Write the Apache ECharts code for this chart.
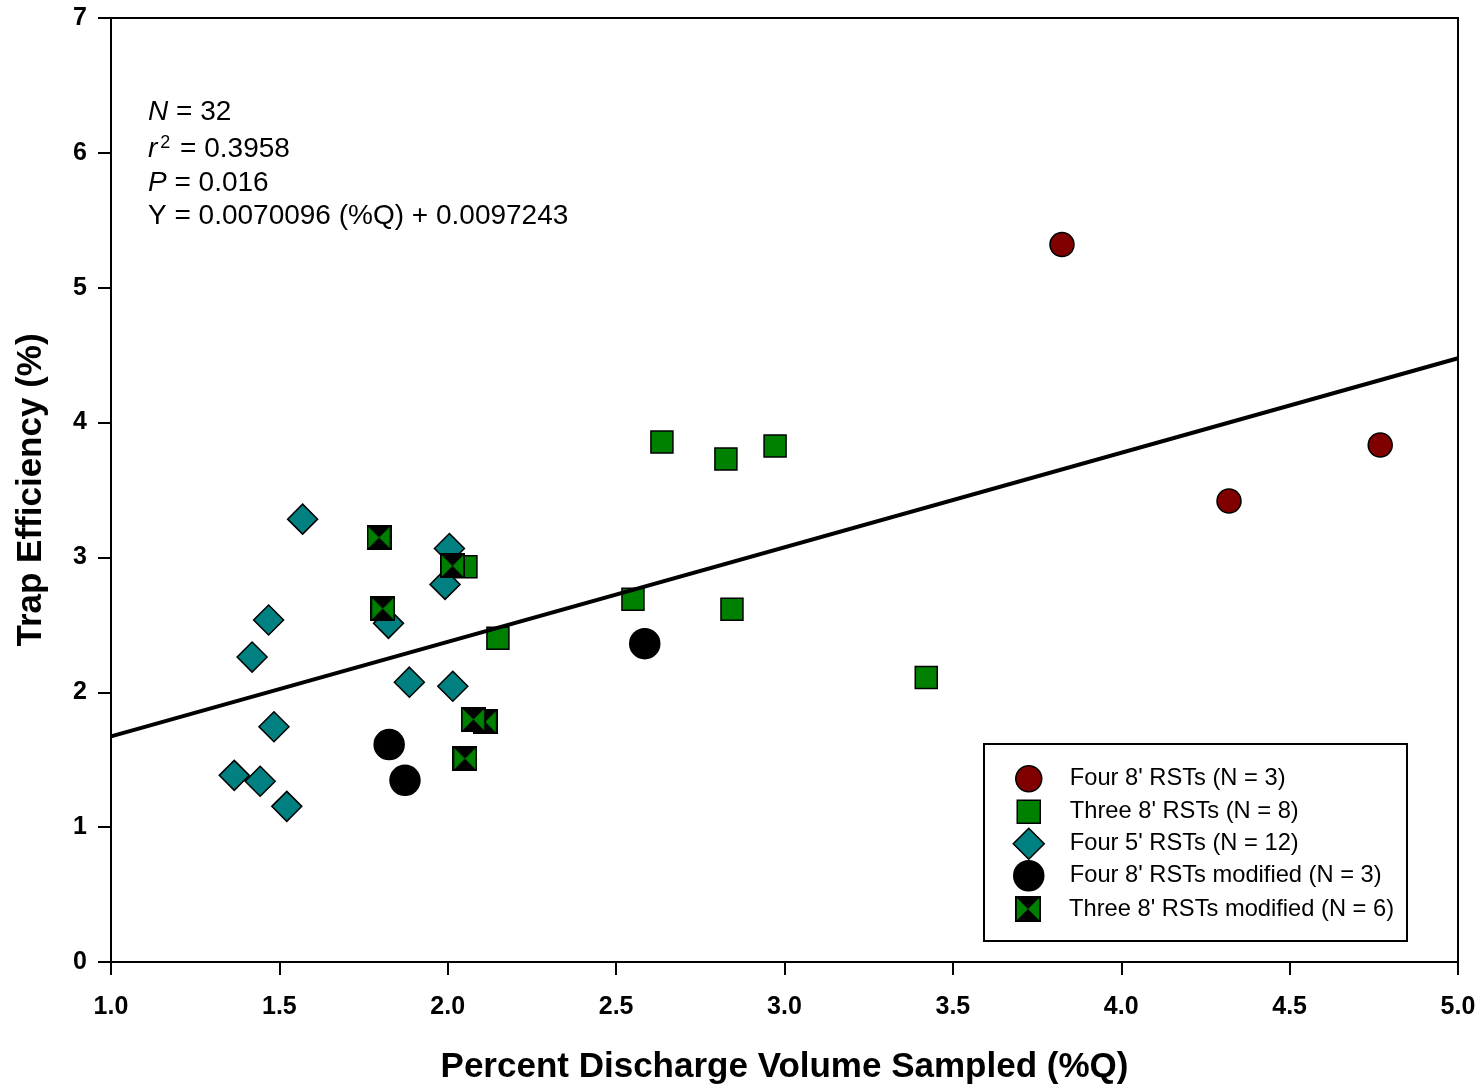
<!DOCTYPE html>
<html><head><meta charset="utf-8">
<script src="https://cdn.jsdelivr.net/npm/echarts@6/dist/echarts.min.js"></script>
<style>html,body{margin:0;padding:0;background:#fff}#c{width:1484px;height:1084px}</style>
</head><body><div id="c"></div>
<script>
// ---- data ----
const seriesNames = [
  "Four 8' RSTs (N = 3)",
  "Three 8' RSTs (N = 8)",
  "Four 5' RSTs (N = 12)",
  "Four 8' RSTs modified (N = 3)",
  "Three 8' RSTs modified (N = 6)"
];
const four8 = [[3.824, 5.32], [4.320, 3.418], [4.769, 3.834]];
const three8 = [[2.636, 3.856], [2.826, 3.73], [2.972, 3.826], [2.550, 2.69], [2.844, 2.615], [3.421, 2.11], [2.149, 2.40], [2.054, 2.93]];
const four5 = [[1.569, 3.284], [1.468, 2.536], [1.419, 2.261], [1.484, 1.744], [1.366, 1.384], [1.443, 1.34], [1.522, 1.154], [2.005, 3.066], [1.992, 2.80], [1.824, 2.511], [1.886, 2.075], [2.015, 2.045]];
const four8mod = [[1.826, 1.612], [1.873, 1.347], [2.585, 2.36]];
const three8mod = [[1.796, 3.148], [1.807, 2.62], [2.111, 1.781], [2.076, 1.798], [2.014, 2.937], [2.051, 1.508]];
const regSlope = 0.70096;      // Y = 0.0070096 (%Q) + 0.0097243, shown in %
const regIntercept = 0.97243;
const xTickLabels = ['1.0', '1.5', '2.0', '2.5', '3.0', '3.5', '4.0', '4.5', '5.0'];
const yTickLabels = ['0', '1', '2', '3', '4', '5', '6', '7'];
const statLines = ['{i|N} = 32', '{i|r}{sup|2}{n| = 0.3958}', '{i|P} = 0.016', 'Y = 0.0070096 (%Q) + 0.0097243'];

const FONT = "'Liberation Sans', Arial, sans-serif";

function bowtieSymbol() {
  const c = document.createElement('canvas');
  c.width = c.height = 100;
  const g = c.getContext('2d');
  g.fillStyle = '#000'; g.fillRect(0, 0, 100, 100);
  g.fillStyle = '#008000';
  const b = 7;
  g.beginPath(); g.moveTo(b, b); g.lineTo(50, 50); g.lineTo(b, 100 - b); g.closePath(); g.fill();
  g.beginPath(); g.moveTo(100 - b, b); g.lineTo(50, 50); g.lineTo(100 - b, 100 - b); g.closePath(); g.fill();
  return 'image://' + c.toDataURL();
}
const BOW = bowtieSymbol();
const SQUARE = 'path://M0,0H10V10H0Z';
const DIAMOND = 'path://M5,0L10,5L5,10L0,5Z';

const chart = echarts.init(document.getElementById('c'), null, {renderer: 'canvas'});

const border = {borderColor: '#000', borderWidth: 1.5, opacity: 1};
const legendRows = [
  {name: seriesNames[0], cy: 778, h: 26, img: false},
  {name: seriesNames[1], cy: 811, h: 23, img: false},
  {name: seriesNames[2], cy: 843, h: 31, img: false},
  {name: seriesNames[3], cy: 875, h: 30, img: false},
  {name: seriesNames[4], cy: 909, h: 26, img: true}
];
const legends = legendRows.map(r => ({
  data: [r.name],
  left: r.img ? 992 : 1028 - r.h / 2, top: r.cy - r.h / 2,
  itemWidth: 72, itemHeight: r.h,
  padding: 0, selectedMode: false,
  symbolKeepAspect: true,
  itemStyle: {borderColor: '#000', borderWidth: 1.5, opacity: 1},
  textStyle: {fontSize: 23.7, fontFamily: FONT, color: '#000', lineHeight: 20}
}));

const statY = [112, 149, 183, 216];
const graphics = [{
  type: 'rect', z: 100,
  shape: {x: 984, y: 744, width: 423, height: 197},
  style: {fill: 'rgba(0,0,0,0)', stroke: '#000', lineWidth: 2}
}].concat(statLines.map((t, i) => ({
  type: 'text', x: 148, y: statY[i], z: 100,
  style: {
    text: t, fill: '#000', fontSize: 28, fontFamily: FONT, verticalAlign: 'middle', align: 'left',
    rich: {
      i: {fontStyle: 'italic', fontSize: 28, fontFamily: FONT, lineHeight: 30},
      n: {fontSize: 28, fontFamily: FONT, lineHeight: 30},
      sup: {fontSize: 18, fontFamily: FONT, lineHeight: 18, verticalAlign: 'top', padding: [0, 2, 0, 3]}
    }
  }
})));

chart.setOption({
  animation: false,
  backgroundColor: '#fff',
  grid: {left: 111, right: 26, top: 18, bottom: 122, containLabel: false, outerBoundsMode: 'none',
    show: true, borderColor: '#000', borderWidth: 2, backgroundColor: 'transparent'},
  xAxis: {
    type: 'value', min: 1, max: 5, interval: 0.5,
    name: 'Percent Discharge Volume Sampled (%Q)', nameLocation: 'middle', nameGap: 88,
    nameTextStyle: {fontSize: 35, fontWeight: 'bold', fontFamily: FONT, color: '#000'},
    axisLine: {show: true, lineStyle: {color: '#000', width: 2}},
    axisTick: {show: true, inside: false, length: 13, lineStyle: {color: '#000', width: 2}},
    axisLabel: {margin: 33, fontSize: 25, fontWeight: 'bold', fontFamily: FONT, color: '#000',
      formatter: v => xTickLabels[Math.round((v - 1) / 0.5)]},
    splitLine: {show: false}
  },
  yAxis: {
    type: 'value', min: 0, max: 7, interval: 1,
    name: 'Trap Efficiency (%)', nameLocation: 'middle', nameGap: 62,
    nameTextStyle: {fontSize: 35, fontWeight: 'bold', fontFamily: FONT, color: '#000'},
    axisLine: {show: true, lineStyle: {color: '#000', width: 2}},
    axisTick: {show: true, inside: false, length: 13, lineStyle: {color: '#000', width: 2}},
    axisLabel: {margin: 24, fontSize: 25, fontWeight: 'bold', fontFamily: FONT, color: '#000',
      formatter: v => yTickLabels[Math.round(v)]},
    splitLine: {show: false}
  },
  legend: legends,
  graphic: graphics,
  series: [
    {name: seriesNames[0], type: 'scatter', data: four8, symbol: 'circle', symbolSize: 24,
      itemStyle: Object.assign({color: '#800000'}, border), z: 2},
    {name: seriesNames[1], type: 'scatter', data: three8, symbol: SQUARE, symbolSize: 22,
      itemStyle: Object.assign({color: '#008000'}, border), z: 2},
    {name: seriesNames[2], type: 'scatter', data: four5, symbol: DIAMOND, symbolSize: 30,
      itemStyle: Object.assign({color: '#008080'}, border), z: 2},
    {name: seriesNames[3], type: 'scatter', data: four8mod, symbol: 'circle', symbolSize: 30,
      itemStyle: Object.assign({color: '#000'}, border), z: 2},
    {name: seriesNames[4], type: 'scatter', data: three8mod, symbol: BOW, symbolSize: 25,
      itemStyle: {color: '#008000', opacity: 1}, z: 2},
    {name: 'regression', type: 'line', showSymbol: false, symbol: 'none', z: 5,
      data: [[1, regSlope * 1 + regIntercept], [5, regSlope * 5 + regIntercept]],
      lineStyle: {color: '#000', width: 4}}
  ]
});
</script>
</body></html>
